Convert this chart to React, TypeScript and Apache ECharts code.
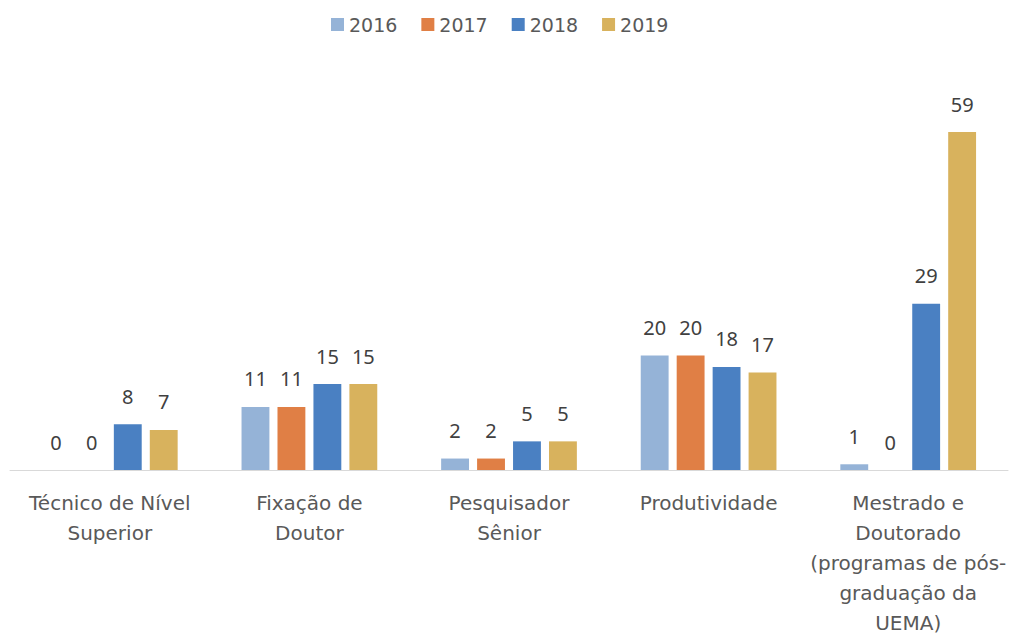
import React, { useEffect, useRef } from "react";
import * as echarts from "echarts";

const categories = [
  "Técnico de Nível\nSuperior",
  "Fixação de\nDoutor",
  "Pesquisador\nSênior",
  "Produtividade",
  "Mestrado e\nDoutorado\n(programas de pós-\ngraduação da\nUEMA)",
];
const seriesNames = ["2016", "2017", "2018", "2019"];
const values2016 = [0, 11, 2, 20, 1];
const values2017 = [0, 11, 2, 20, 0];
const values2018 = [8, 15, 5, 18, 29];
const values2019 = [7, 15, 5, 17, 59];
const colors = ["#95B3D7", "#E07F45", "#4A80C2", "#D8B25D"];

export default function App() {
  const ref = useRef<HTMLDivElement>(null);
  useEffect(() => {
    if (!ref.current) return;
    const chart = echarts.init(ref.current, null, { renderer: "svg" });
    const all = [values2016, values2017, values2018, values2019];
    chart.setOption({
      animation: false,
      legend: {
        top: 10,
        left: 326,
        itemWidth: 13,
        itemHeight: 13,
        itemGap: 24,
        icon: "rect",
        textStyle: { color: "#595959", fontSize: 19, fontFamily: "DejaVu Sans" },
        data: seriesNames,
      },
      grid: {
        left: 10,
        right: 17,
        top: 69,
        bottom: 165,
        containLabel: false,
        outerBoundsMode: "none",
      },
      xAxis: {
        type: "category",
        data: categories,
        axisLine: { show: true, lineStyle: { color: "#D9D9D9", width: 1 } },
        axisTick: { show: false },
        axisLabel: {
          interval: 0,
          color: "#595959",
          fontSize: 20,
          lineHeight: 30,
          margin: 18,
          fontFamily: "DejaVu Sans",
        },
      },
      yAxis: {
        type: "value",
        min: 0,
        max: 70,
        show: false,
        splitLine: { show: false },
      },
      series: seriesNames.map((name, i) => ({
        name,
        type: "bar",
        data: all[i],
        barGap: "29%",
        barCategoryGap: "32%",
        itemStyle: { color: colors[i] },
        label: {
          show: true,
          position: "top",
          distance: 18,
          color: "#404040",
          fontSize: 20,
          fontFamily: "Noto Sans",
        },
      })),
    });
    return () => chart.dispose();
  }, []);
  return <div ref={ref} style={{ width: 1025, height: 635, position: "absolute", left: 0, top: 0 }} />;
}
